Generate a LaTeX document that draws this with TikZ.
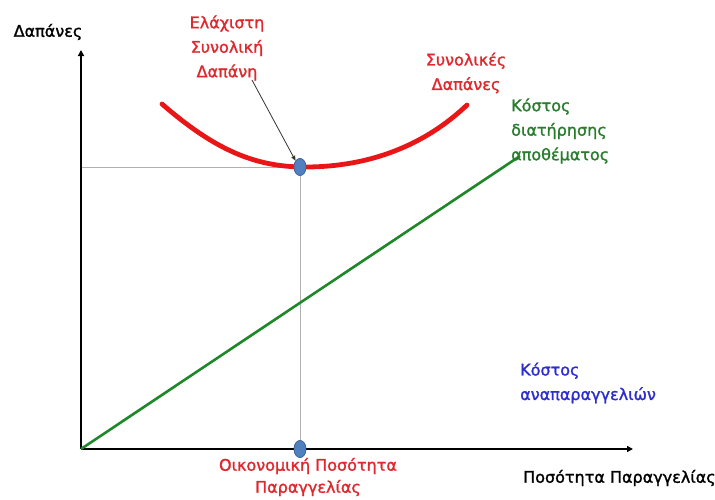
\documentclass[tikz,border=0pt]{standalone}
\usepackage{fontspec}
\setmainfont{DejaVu Sans}[FakeBold=1.5]
\usetikzlibrary{arrows.meta,shapes.geometric}
\definecolor{cred}{RGB}{232,22,22}
\definecolor{tred}{RGB}{222,40,45}
\definecolor{cgreen}{RGB}{30,135,40}
\definecolor{tgreen}{RGB}{40,125,45}
\definecolor{tblue}{RGB}{45,45,205}
\definecolor{dotfill}{RGB}{80,128,190}
\definecolor{dotdraw}{RGB}{60,95,150}
\definecolor{guide}{RGB}{175,175,180}
\begin{document}
\begin{tikzpicture}[x=1pt,y=-1pt,
  lbl/.style={font=\fontsize{16}{24.5}\selectfont, inner sep=0pt, align=center},
  lbll/.style={lbl, align=left, anchor=west},
  axis/.style={line width=2.6pt, -{Triangle[length=6pt,width=6pt]}},
  dot/.style={ellipse, draw=dotdraw, fill=dotfill, minimum width=12pt, minimum height=17pt, inner sep=0pt, line width=0.6pt},
  guideline/.style={guide, line width=0.7pt}]
\useasboundingbox (0,0) rectangle (715,499);
\coordinate (O) at (81,449);
\coordinate (ytop) at (81,50);
\coordinate (xend) at (633,449);
\coordinate (yq) at (81,167);
\coordinate (g2) at (520,156);
% guides
\node[dot] (dtop) at (300,167) {};
\node[dot] (dbot) at (300,449) {};
\draw[guideline] (yq) -- (dtop.center);
\draw[guideline] (dtop.center) -- (dbot.center);
% axes
\draw[axis] (O) -- (ytop);
\draw[axis] (O) -- (xend);
% green line
\draw[cgreen, line width=2.6pt] (O) -- (g2);
% red curve
\draw[cred, line width=4.8pt, line cap=round] (162,104) .. controls (215,150) and (255,167) .. (305,167) .. controls (370,167) and (425,145) .. (467,105);
\node[dot] at (dtop.center) {};
\node[dot] at (dbot.center) {};
% labels
\node[lbl] (ldap) at (48,32) {Δαπάνες};
\node[lbl, text=tred] (lmin) at (227,48) {Ελάχιστη\\Συνολική\\Δαπάνη};
\node[lbl, text=tred] (lsyn) at (466,73) {Συνολικές\\Δαπάνες};
\node[lbll, text=tgreen] (lgreen) at (511,131) {Κόστος\\διατήρησης\\αποθέματος};
\node[lbll, text=tblue] (lblue) at (520,383) {Κόστος\\αναπαραγγελιών};
\node[lbl, text=tred, font=\fontsize{16}{22}\selectfont] (leoq) at (308,477) {Οικονομική Ποσότητα\\Παραγγελίας};
\node[lbl, anchor=west] (lx) at (523,478) {Ποσότητα Παραγγελίας};
\draw[line width=0.8pt, black!80, -{Triangle[length=5pt,width=4pt]}] (252,80) -- (dtop.north west);
\end{tikzpicture}
\end{document}
